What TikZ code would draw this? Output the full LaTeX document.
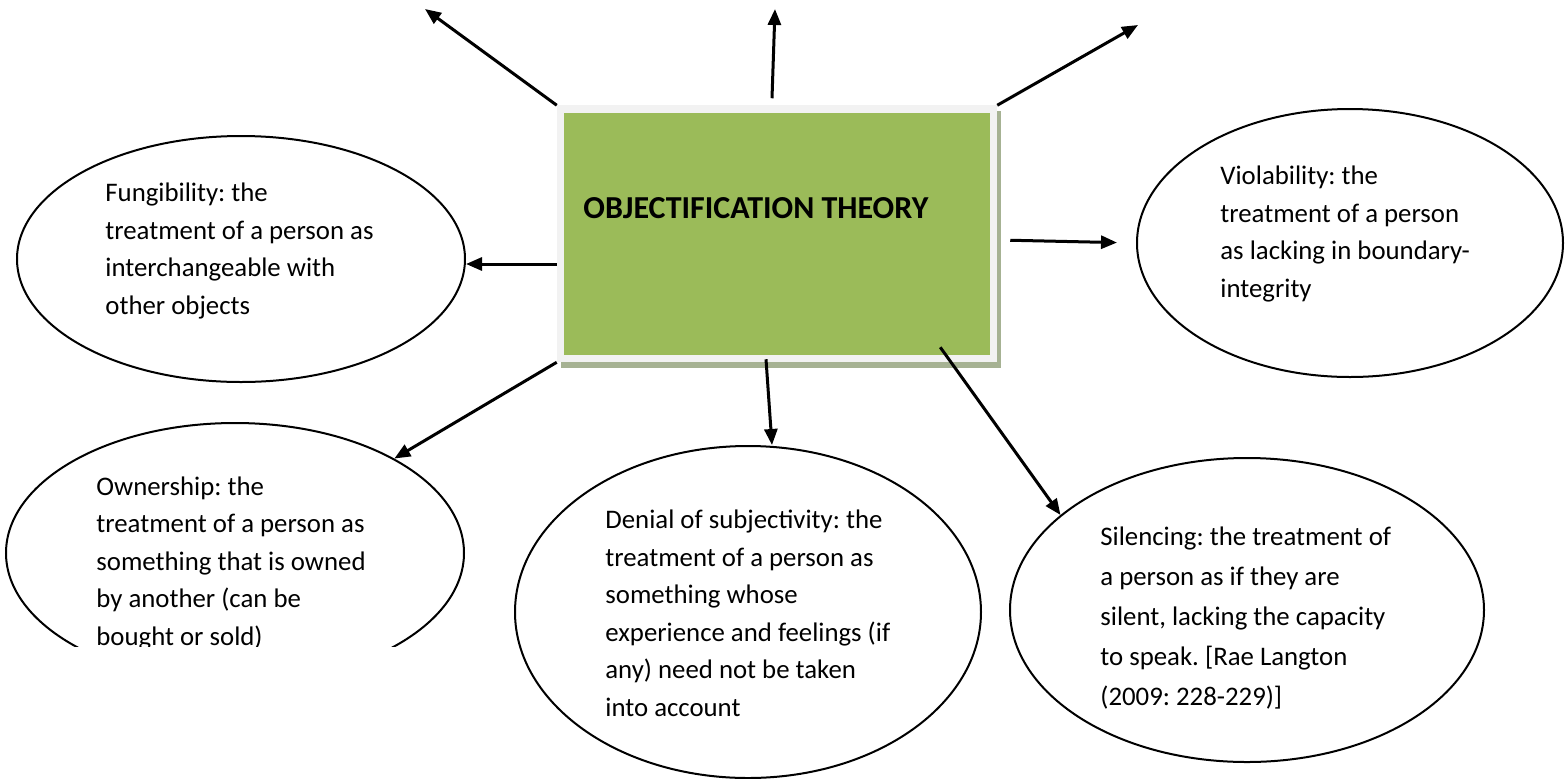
\documentclass[tikz,border=0pt]{standalone}
\usepackage{fontspec}
\setmainfont{Carlito}
\frenchspacing
\usetikzlibrary{arrows.meta,shapes.geometric,shadows}

\definecolor{boxgreen}{HTML}{9BBB59}
\definecolor{boxframe}{HTML}{F2F2F2}
\definecolor{boxshadow}{HTML}{A6B293}

\tikzset{
  bubble/.style={ellipse, draw, line width=1pt, inner sep=0pt},
  % anchored at the baseline of the last line
  formtext/.style={anchor=base west, inner sep=0pt, align=left,
    font=\fontsize{13.4}{18.75}\selectfont},
  theorybox/.style={fill=boxgreen, draw=boxframe, line width=3.75pt, inner sep=0pt,
    drop shadow={shadow xshift=2pt, shadow yshift=-3pt, fill=boxshadow,
      draw=boxshadow, line width=3.75pt, opacity=1}},
  arrow/.style={-{Triangle[length=8pt,width=6.5pt]}, line width=1.5pt},
}

\begin{document}
\begin{tikzpicture}[x=0.5pt,y=-0.5pt]
\useasboundingbox (0,0) rectangle (1565,778);

% centre box
\node[theorybox, minimum width=216.5pt, minimum height=124.75pt] (theory) at (777,233.75) {};
\node[font=\fontsize{16}{19}\selectfont\bfseries, anchor=base west, inner sep=0pt] (title)
  at (583,218) {OBJECTIFICATION THEORY};

% the five forms
\node[bubble, minimum width=224pt, minimum height=123pt] (fung) at (241,259) {};
\node[formtext] (fungText) at (105,314)
  {Fungibility: the\\treatment of a person as\\interchangeable with\\other objects};

\node[bubble, minimum width=213pt, minimum height=134pt] (viol) at (1350,243) {};
\node[formtext] (violText) at (1220,297)
  {Violability: the\\treatment of a person\\as lacking in boundary-\\integrity};

\begin{scope}
  \clip (0,0) rectangle (1565,646);
  \node[bubble, minimum width=229pt, minimum height=130pt] (own) at (235,553) {};
  \node[formtext] (ownText) at (96,645)
    {Ownership: the\\treatment of a person as\\something that is owned\\by another (can be\\bought or sold)};
\end{scope}

\node[bubble, minimum width=233pt, minimum height=166pt] (deny) at (748,612) {};
\node[formtext] (denyText) at (605,716)
  {Denial of subjectivity: the\\treatment of a person as\\something whose\\experience and feelings (if\\any) need not be taken\\into account};

\node[bubble, minimum width=237pt, minimum height=152pt] (sil) at (1247,610) {};
\node[formtext, font=\fontsize{13.4}{20}\selectfont] (silText) at (1100,705)
  {Silencing: the treatment of\\a person as if they are\\silent, lacking the capacity\\to speak. [Rae Langton\\(2009: 228-229)]};

% free ends at the top
\coordinate (ul) at (425,9);
\coordinate (up) at (775,9);
\coordinate (ur) at (1138,25);
\coordinate (fungIn) at ([yshift=-2.5pt]fung.east);

\draw[arrow] (theory.north west) -- (ul);
\draw[arrow] ([xshift=-2.5pt,yshift=3.5pt]theory.north) -- (up);
\draw[arrow] (theory.north east) -- (ur);
\draw[arrow] (theory.west |- fungIn) -- (fungIn);
\draw[arrow, shorten >=9.5pt] ([xshift=6.5pt,yshift=-3.25pt]theory.east) -- (viol.west);
\draw[arrow] (theory.south west) -- (own);
\draw[arrow] ([xshift=-5.5pt,yshift=1.5pt]theory.south) -- ([xshift=12pt]deny.north);
\draw[arrow] ([xshift=-28.5pt,yshift=7.5pt]theory.south east) -- (sil.153);

\end{tikzpicture}
\end{document}
